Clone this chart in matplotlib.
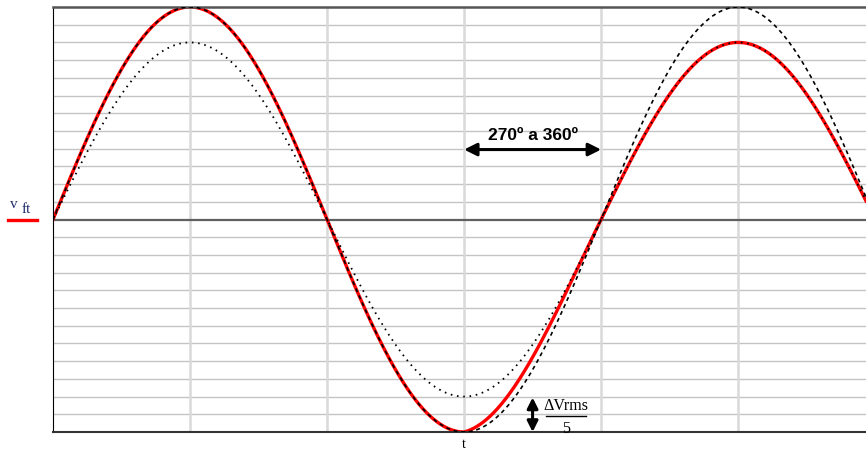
import numpy as np
import matplotlib.pyplot as plt

# envelope of the sine waves (degrees -> peak value, grid units)
ang_pts = [0, 270, 360, 540]
amp_red = [12, 12, 10, 10]
amp_dashed = 12
amp_dotted = 10
x_max = 534
y_lim = 12
v_grid = [90, 180, 270, 360, 450]

ang = np.linspace(0, x_max, 1200)
s = np.sin(np.radians(ang))
red = np.interp(ang, ang_pts, amp_red) * s

fig = plt.figure(figsize=(8.66, 4.52), dpi=100)
ax = fig.add_axes([53 / 866, 19 / 452, 1 - 53 / 866, 425 / 452])

for yy in range(-y_lim + 1, y_lim):
    if yy != 0:
        ax.axhline(yy, color="#c4c4c4", lw=1, zorder=0)
for xx in v_grid:
    ax.axvline(xx, color="#d9d9d9", lw=1.8, zorder=0)
ax.axhline(0, color="#606060", lw=1.6, zorder=1)

ax.plot(ang, red, color="#ff0000", lw=2.4, zorder=2)
ax.plot(ang, amp_dashed * s, color="black", lw=1.2, dashes=(2.4, 2.2), zorder=3)
ax.plot(ang, amp_dotted * s, color="black", lw=1.3, dashes=(0.9, 2.6), zorder=3)

ax.set_xlim(0, x_max)
ax.set_ylim(-y_lim, y_lim)
ax.set_xticks([])
ax.set_yticks([])
ax.spines["right"].set_visible(False)
ax.spines["left"].set_color("black")
ax.spines["top"].set_color("#555555")
ax.spines["bottom"].set_color("#333333")
ax.spines["top"].set_linewidth(1.8)
ax.spines["bottom"].set_linewidth(1.5)

# annotation 270º a 360º
ax.annotate("", xy=(270, 3.95), xytext=(360, 3.95),
            arrowprops=dict(arrowstyle="<|-|>", color="black", lw=2.2,
                            mutation_scale=19, shrinkA=0, shrinkB=0))
ax.text(315, 4.4, "270º a 360º", ha="center", va="bottom",
        fontsize=12.5, fontweight="bold", family="Liberation Sans")

# delta V arrow
ax.annotate("", xy=(315, -10.05), xytext=(315, -12),
            arrowprops=dict(arrowstyle="<|-|>", color="black", lw=2.2,
                            mutation_scale=16, shrinkA=0, shrinkB=0))
ax.text(337, -10.45, "ΔVrms", ha="center", va="center", fontsize=11.5,
        family="Liberation Serif")
ax.plot([323.5, 350], [-11.1, -11.1], color="black", lw=1, clip_on=False)
ax.text(337, -11.75, "5", ha="center", va="center", fontsize=11.5,
        family="Liberation Serif")

# axis labels
fig.text(464 / 866, 1 - 445 / 452, "t", ha="center", va="center",
         fontsize=10, family="Liberation Serif")
fig.text(14 / 866, 1 - 204 / 452, "v", ha="center", va="center",
         fontsize=11, family="Liberation Serif", color="#1f2a6b")
fig.text(26 / 866, 1 - 210 / 452, "ft", ha="center", va="center",
         fontsize=11, family="Liberation Serif", color="#1f2a6b")
fig.add_artist(plt.Line2D([8 / 866, 37 / 866], [1 - 221 / 452, 1 - 221 / 452],
                          color="#ff0000", lw=2.4))

fig.savefig("out.png", dpi=100)
